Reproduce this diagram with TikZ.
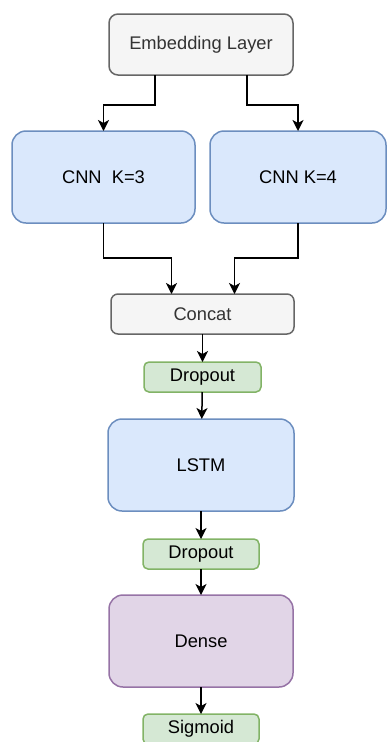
\documentclass[tikz,border=0pt]{standalone}
\usepackage{fontspec}
\setmainfont{Liberation Sans}
\usepackage{xcolor}
\usepackage{tikz}
\usetikzlibrary{arrows.meta, positioning}
\definecolor{grayfill}{HTML}{F5F5F5}
\definecolor{graydraw}{HTML}{666666}
\definecolor{graytext}{HTML}{333333}
\definecolor{bluefill}{HTML}{DAE8FC}
\definecolor{bluedraw}{HTML}{6C8EBF}
\definecolor{greenfill}{HTML}{D5E8D4}
\definecolor{greendraw}{HTML}{82B366}
\definecolor{purplefill}{HTML}{E1D5E7}
\definecolor{purpledraw}{HTML}{9673A6}
\tikzstyle{block} = [rectangle, line width=1.5pt, outer sep=0pt, text centered, inner sep=0pt, font=\fontsize{18.3}{21}\selectfont]
\tikzstyle{input} = [block, rounded corners=9pt, minimum width=184pt, minimum height=61pt, fill=grayfill, draw=graydraw, text=graytext]
\tikzstyle{merge} = [block, rounded corners=7pt, minimum width=183pt, minimum height=40pt, fill=grayfill, draw=graydraw, text=graytext]
\tikzstyle{layer} = [block, rounded corners=14pt, minimum width=184pt, minimum height=92pt, fill=bluefill, draw=bluedraw]
\tikzstyle{reg} = [block, rounded corners=5pt, minimum width=117pt, minimum height=30pt, fill=greenfill, draw=greendraw]
\tikzstyle{output} = [block, rounded corners=14pt, minimum width=184pt, minimum height=92pt, fill=purplefill, draw=purpledraw]
\tikzstyle{arrow} = [line width=1.5pt, -{Stealth[length=11pt, width=11pt, inset=3pt]}]

\begin{document}
\begin{tikzpicture}[x=1pt, y=-1pt]
        \useasboundingbox (0,0) rectangle (387,742);
        \node (emb) [input] at (201,44.5) {Embedding Layer};
        \node (cnnA) [layer, minimum width=183pt] at (103.5,177) {CNN\ \ K=3};
        \node (cnnB) [layer, minimum width=176pt] at (298,177) {CNN K=4};
        \node (concat) [merge] at (202.5,314) {Concat};
        \node (dropA) [reg] at (202.5,377) {Dropout};
        \node (lstm) [layer, minimum width=186pt] at (201,465) {LSTM};
        \node (dropB) [reg, minimum width=116pt] at (201,554) {Dropout};
        \node (dense) [output] at (201,641) {Dense};
        \node (sigm) [reg, minimum width=116pt] at (201,729) {Sigmoid};
        % Embedding splits into the two convolutions
        \draw [arrow] ([xshift=-46pt]emb.south) -- ++(0,30) -| (cnnA.north);
        \draw [arrow] ([xshift=46pt]emb.south) -- ++(0,30) -| (cnnB.north);
        % Both convolutions go into the concat
        \draw [arrow] (cnnA.south) -- ++(0,35) -| ([xshift=-31pt]concat.north);
        \draw [arrow] (cnnB.south) -- ++(0,35) -| ([xshift=32pt]concat.north);
        \draw [arrow] (concat) -- (dropA);
        \draw [arrow] (dropA) -- (lstm);
        \draw [arrow] (lstm) -- (dropB);
        \draw [arrow] (dropB) -- (dense);
        \draw [arrow] (dense) -- (sigm);
    \end{tikzpicture}
\end{document}
